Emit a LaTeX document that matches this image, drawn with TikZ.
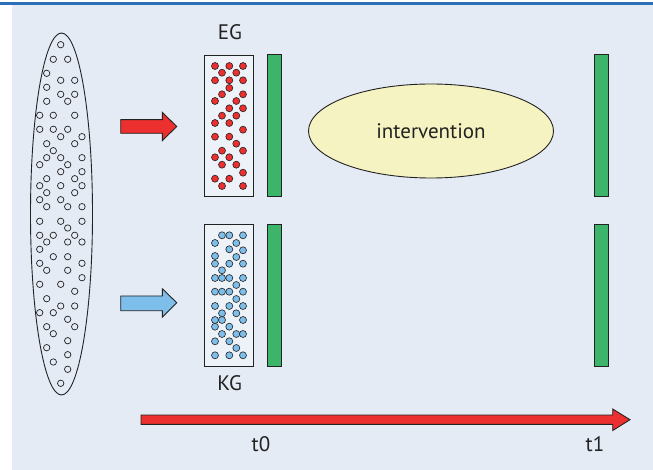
\documentclass[tikz,border=0pt]{standalone}
\usepackage{fontspec}
\setmainfont{PT Sans}
\usetikzlibrary{shapes.geometric}
\definecolor{bg}{HTML}{E4EBF5}
\definecolor{topline}{HTML}{2A6FB8}
\definecolor{boxfill}{HTML}{EDF1F8}
\definecolor{barg}{HTML}{3CB46A}
\definecolor{redc}{HTML}{EC2F2F}
\definecolor{bluec}{HTML}{7DBFEA}
\definecolor{yel}{HTML}{F5F3C2}
\definecolor{ink}{HTML}{222222}
\begin{document}
\begin{tikzpicture}[x=1bp,y=-1bp,line width=0.9bp,
  lbl/.style={font=\fontsize{21bp}{25bp}\selectfont,text=ink,inner sep=0pt},
  grpbox/.style={draw=ink,fill=boxfill,minimum width=49bp,minimum height=141.5bp,inner sep=0pt},
  gbar/.style={draw=ink,fill=barg,minimum width=14bp,minimum height=142bp,inner sep=0pt},
  odot/.style={draw=ink,line width=0.7bp},
  rdot/.style={draw=ink,fill=redc,line width=0.6bp},
  bdot/.style={draw=ink,fill=bluec,line width=0.6bp},
  blockarrow/.style={draw=ink,line join=miter}]
\useasboundingbox (0,0) rectangle (653,470);
\fill[bg] (12,5) rectangle (653,470);
\fill[topline] (0,2.5) rectangle (653,4.8);

% population ellipse
\node[ellipse,draw=ink,minimum width=62bp,minimum height=362bp,inner sep=0pt] (pop) at (61.5,214) {};
\foreach \x/\y in {60.7/44.7, 53.3/59.3, 67.7/59.3, 46.7/73.3, 60.7/80.3, 74.7/80.3, 46.7/87.3,
  60.7/94.3, 74.7/94.3, 67.7/101.3, 46.7/101.3, 39.7/115.3, 53.3/115.3, 74.7/115.3,
  39.7/129.3, 53.3/129.3, 67.7/129.3, 60.7/136.7, 82/136.7, 46.7/143.7, 74.7/143.7, 53.3/150.7,
  46.7/157.7, 60.7/157.7, 82/157.7, 39.7/164.7, 67.7/164.7, 60.7/171.7, 82/171.7,
  46.7/178.7, 74.7/178.7, 39.7/185.7, 60.7/185.7, 82/185.7, 46.7/192.7, 74.7/192.7,
  39.7/199.7, 60.7/199.7, 46.7/206.7, 67.7/206.7, 82/206.7,
  39.7/221.3, 60.7/221.3, 82/221.3, 67.7/228,
  39.7/235.3, 53.3/235.3, 74.7/235.3, 46.7/242, 67.7/242, 82/242, 39.7/249.3,
  53.3/256.7, 67.7/256.7, 39.7/263.3, 82/263.3, 46.7/270.3, 67.7/270.3, 82/277.7,
  39.7/284.3, 60.7/284.3, 74.7/291.3, 46.7/298.7, 60.7/306, 74.7/306, 39.7/312.7, 53.3/312.7,
  67.7/319.3, 46.7/326.7, 74.7/326.7, 53.3/333.7, 67.7/340.7, 46.7/347.7, 67.7/354.7,
  53.3/362, 67.7/369.3, 60.7/383.3}
  \draw[odot] (\x,\y) circle[radius=3.2bp];

% arrows from population
\draw[blockarrow,fill=redc] (120.7,119.7) -- (162.3,119.7) -- (162.3,112.3) -- (176.7,126.5)
  -- (162.3,140.7) -- (162.3,133.3) -- (120.7,133.3) -- cycle;
\draw[blockarrow,fill=bluec] (120.7,296) -- (162.3,296) -- (162.3,288.7) -- (176.7,302.7)
  -- (162.3,317.3) -- (162.3,310.7) -- (120.7,310.7) -- cycle;

% groups
\node[grpbox] (eg) at (228.9,126.2) {};
\node[grpbox] (kg) at (228.9,295.2) {};
\node[lbl] (eglbl) at (230,32) {EG};
\node[lbl] (kglbl) at (229.7,383.5) {KG};
\foreach \x/\y in {215/66, 229.3/66, 243/66, 222/72.7, 236.3/72.7, 215/80.3, 229.3/80.3, 243/80.3,
  229.3/88, 222/94.3, 243/94.3, 215/101, 236.3/101, 229.3/108.3, 243/108.3, 222/115.7, 236.3/115.7,
  215/123, 229.3/123, 243/129.7, 215/136.7, 229.3/136.7, 236.3/143.7, 222/150.7, 243/150.7,
  215/157.3, 229.3/157.3, 222/164.7, 236.3/164.7, 243/172.7, 215/178.7, 229.3/178.7, 222/186, 243/186}
  \draw[rdot] (\x,\y) circle[radius=3.5bp];
\foreach \x/\y in {222/235.3, 229.3/235.3, 243/235.3, 215/243, 236.3/243, 229.3/249.3, 243/250.3,
  215/256, 236.3/257, 215/263.7, 229.3/263.7, 243/263.7, 222/270.3, 215/278, 222/278, 229.3/278, 243/278,
  236.3/285, 215/291.7, 222/291.7, 229.3/291.7, 243/291.7, 236.3/299, 215/306, 229.3/306, 243/306,
  222/313.3, 236.3/313.3, 215/320, 222/320, 243/320, 215/326.7, 229.3/326.7, 222/334, 236.3/334, 243/334,
  215/341.3, 229.3/341.3, 236.3/348, 215/355.3, 229.3/355.3, 243/355.3}
  \draw[bdot] (\x,\y) circle[radius=3.5bp];

% measurement bars
\node[gbar] (b1) at (274.7,125.8) {};
\node[gbar] (b2) at (274.7,295.2) {};
\node[gbar] (b3) at (601,125.8) {};
\node[gbar] (b4) at (601,295.2) {};

% intervention
\node[ellipse,draw=ink,fill=yel,minimum width=245bp,minimum height=94bp,inner sep=0pt] (iv) at (431,131) {};
\node[lbl] (ivlbl) at (431,131) {intervention};

% time axis
\draw[blockarrow,fill=redc] (141,415) -- (612.7,415) -- (612.7,409) -- (630,419.7)
  -- (612.7,430.5) -- (612.7,424.3) -- (141,424.3) -- cycle;
\node[lbl] (t0) at (261,444.5) {t0};
\node[lbl] (t1) at (595,444.5) {t1};
\end{tikzpicture}
\end{document}
